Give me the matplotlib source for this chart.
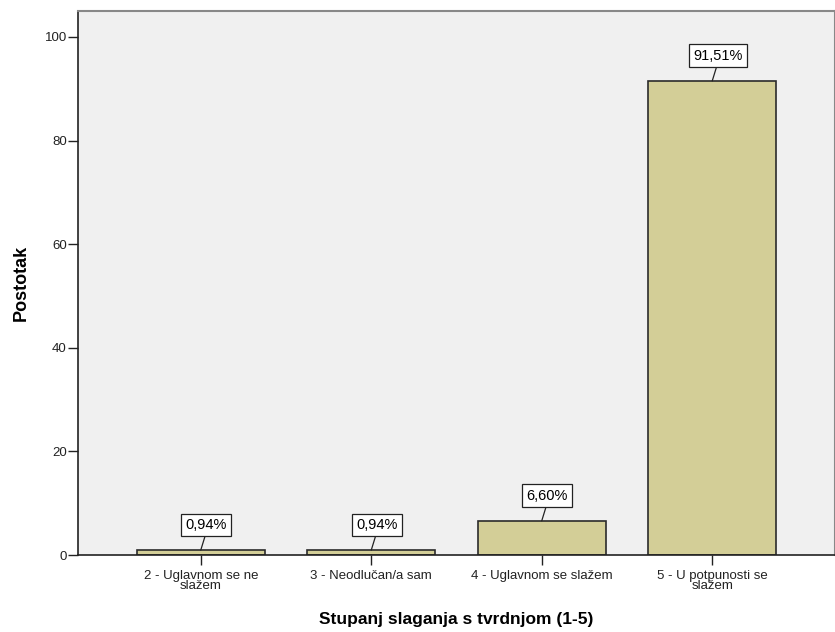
import matplotlib.pyplot as plt

categories = ['2 - Uglavnom se ne\nslažem', '3 - Neodlučan/a sam',
              '4 - Uglavnom se slažem', '5 - U potpunosti se\nslažem']
values = [0.94, 0.94, 6.60, 91.51]
labels = ['0,94%', '0,94%', '6,60%', '91,51%']
y_ticks = [0, 20, 40, 60, 80, 100]

plt.rcParams['font.family'] = ['Liberation Sans', 'DejaVu Sans']

fig = plt.figure(figsize=(8.35, 6.32), dpi=100)
ax = fig.add_axes([78 / 835, 1 - 555 / 632, 1 - 78 / 835, (555 - 11) / 632])
ax.set_facecolor('#f0f0f0')

x = range(len(categories))
ax.bar(x, values, width=0.75, color='#d3ce97', edgecolor='#2b2b2b', linewidth=1.2, zorder=2)

# value boxes with a short leader line to the bar top
for i, (v, lab) in enumerate(zip(values, labels)):
    ax.annotate(lab, xy=(i, v), xytext=(4, 13), textcoords='offset points',
                ha='center', va='bottom', fontsize=10.5,
                bbox=dict(boxstyle='square,pad=0.3', fc='white', ec='#222222', lw=0.9),
                arrowprops=dict(arrowstyle='-', color='#222222', lw=0.9,
                                shrinkA=0, shrinkB=0, relpos=(0.5, 0)),
                zorder=3)

ax.set_xlim(-0.72, 3.72)
ax.set_ylim(0, 105)
ax.set_yticks(y_ticks)
ax.set_xticks(list(x))
ax.set_xticklabels(categories, linespacing=0.85)
ax.tick_params(axis='both', direction='out', length=7, width=1, colors='#222222',
               labelsize=9.5, labelcolor='#222222')
ax.tick_params(axis='y', pad=1)

for side in ['left', 'bottom']:
    ax.spines[side].set_color('#222222')
    ax.spines[side].set_linewidth(1.2)
for side in ['top', 'right']:
    ax.spines[side].set_color('#888888')
    ax.spines[side].set_linewidth(1.5)

ax.set_xlabel('Stupanj slaganja s tvrdnjom (1-5)', fontsize=12.5, fontweight='bold', labelpad=14)
ax.set_ylabel('Postotak', fontsize=13, fontweight='bold', labelpad=11)

fig.savefig('out.png', dpi=100)
